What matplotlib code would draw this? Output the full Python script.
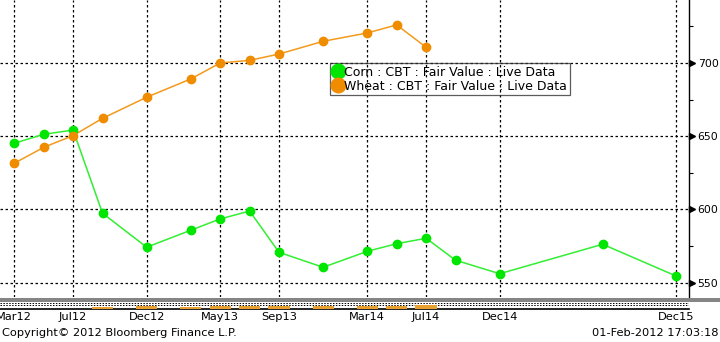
import matplotlib
matplotlib.use("Agg")
import matplotlib.pyplot as plt
from matplotlib.lines import Line2D
from matplotlib.patches import Rectangle

MONTHS = {"Jan": 1, "Feb": 2, "Mar": 3, "Apr": 4, "May": 5, "Jun": 6,
          "Jul": 7, "Aug": 8, "Sep": 9, "Oct": 10, "Nov": 11, "Dec": 12}

def mi(lbl):
    return (int(lbl[3:]) - 12) * 12 + MONTHS[lbl[:3]] - 1

corn_contracts = ["Mar12", "May12", "Jul12", "Sep12", "Dec12", "Mar13", "May13", "Jul13",
                  "Sep13", "Dec13", "Mar14", "May14", "Jul14", "Sep14", "Dec14", "Jul15", "Dec15"]
corn_values = [645.2, 651.3, 654.2, 597.4, 574.2, 585.8, 593.5, 598.9,
               570.7, 560.5, 571.4, 576.6, 580.3, 565.3, 556.1, 576.2, 554.5]

wheat_contracts = ["Mar12", "May12", "Jul12", "Sep12", "Dec12", "Mar13", "May13", "Jul13",
                   "Sep13", "Dec13", "Mar14", "May14", "Jul14"]
wheat_values = [631.5, 642.4, 650.4, 662.2, 676.6, 689.1, 700.0, 701.8,
                706.1, 714.8, 720.5, 726.0, 710.7]
wheat_strip = [0, 0, 0, 1.2, 2.4, 2.0, 2.4, 2.4, 3.0, 3.0, 3.0, 3.0, 3.2]

xtick_labels = ["Mar12", "Jul12", "Dec12", "May13", "Sep13", "Mar14", "Jul14", "Dec14", "Dec15"]
ytick_values = [550, 600, 650, 700]
ytick_minor = [575, 625, 675, 725]

legend_labels = ["Corn : CBT : Fair Value : Live Data", "Wheat : CBT : Fair Value : Live Data"]
copyright_text = "Copyright\u00a9 2012 Bloomberg Finance L.P."
timestamp_text = "01-Feb-2012 17:03:18"

CORN_LINE = "#33ee33"
CORN_MK = "#00e600"
WHEAT_LINE = "#f39a1c"
WHEAT_MK = "#f08c00"
FONT = "DejaVu Sans"
FS = 8.2

W, H = 720, 342
fig = plt.figure(figsize=(W / 100, H / 100), dpi=100)

def fx(px):
    return px / W

def fy(py):
    return 1 - py / H

XMIN, XMAX = 1.03, 47.87
ax = fig.add_axes([0, fy(297), fx(689), 297 / H])
ax.set_xlim(XMIN, XMAX)
ax.set_ylim(540.2, 743.0)

cx = [mi(c) for c in corn_contracts]
wx = [mi(c) for c in wheat_contracts]
ax.plot(cx, corn_values, color=CORN_LINE, lw=1.1, zorder=3)
ax.plot(cx, corn_values, ls="none", marker="o", ms=6.0, mfc=CORN_MK, mec=CORN_MK, zorder=4)
ax.plot(wx, wheat_values, color=WHEAT_LINE, lw=1.1, zorder=3)
ax.plot(wx, wheat_values, ls="none", marker="o", ms=6.0, mfc=WHEAT_MK, mec=WHEAT_MK, zorder=4)

xt = [mi(t) for t in xtick_labels]
for x in xt:
    ax.axvline(x, color="black", lw=0.9, ls=(0, (2, 2)), zorder=1)
for y in ytick_values:
    ax.axhline(y, color="black", lw=0.9, ls=(0, (2, 2)), zorder=1)

for s in ["left", "top", "bottom"]:
    ax.spines[s].set_visible(False)
ax.spines["right"].set_color("black")
ax.spines["right"].set_linewidth(1.0)
ax.set_xticks([])
ax.yaxis.tick_right()
ax.set_yticks(ytick_values)
ax.set_yticklabels([str(v) for v in ytick_values], fontsize=FS - 0.4, family=FONT)
ax.set_yticks(ytick_minor, minor=True)
ax.tick_params(axis="y", which="major", length=0, pad=6.2)
ax.tick_params(axis="y", which="minor", length=3, width=0.8, direction="out", color="black")
for v in ytick_values:
    ax.plot([XMAX + 0.18], [v], marker=">", ms=4.8, color="black", clip_on=False, zorder=5)

handles = [Line2D([], [], ls="none", marker="o", ms=10.5, mfc=CORN_MK, mec=CORN_MK),
           Line2D([], [], ls="none", marker="o", ms=10.5, mfc=WHEAT_MK, mec=WHEAT_MK)]
leg = ax.legend(handles, legend_labels, loc="upper left",
                bbox_to_anchor=(330 / 689, 1 - 63 / 297), frameon=True, fancybox=False,
                prop={"family": FONT, "size": 9.0}, handlelength=0.85,
                handletextpad=0.1, borderpad=0.2, labelspacing=0.08, borderaxespad=0)
leg.get_frame().set_facecolor("none")
leg.get_frame().set_edgecolor("#333333")
leg.get_frame().set_linewidth(0.9)

# grey separator band
fig.patches.append(Rectangle((0, fy(302)), fx(720), 4.5 / H, transform=fig.transFigure,
                             facecolor="#858585", edgecolor="none", zorder=0))

# bottom strip
sax = fig.add_axes([0, fy(308.5), fx(689), 6.5 / H])
sax.set_xlim(XMIN, XMAX)
sax.set_ylim(0, 6.5)
sax.axhline(3.2, color="black", lw=0.7, ls=(0, (1.5, 1.5)), zorder=1)
sax.axhline(5.2, color="black", lw=0.7, ls=(0, (1.5, 1.5)), zorder=1)
sax.bar(wx, wheat_strip, width=1.45, color="#e8a030", bottom=0, zorder=3)
for s in ["left", "top", "right"]:
    sax.spines[s].set_visible(False)
sax.spines["bottom"].set_color("black")
sax.spines["bottom"].set_linewidth(1.2)
sax.set_yticks([])
sax.set_xticks(xt)
sax.set_xticklabels(xtick_labels, fontsize=FS, family=FONT)
sax.tick_params(axis="x", length=0, pad=2.5)

fig.text(fx(2), fy(333), copyright_text, fontsize=FS, family=FONT, va="center", ha="left")
fig.text(fx(718), fy(333), timestamp_text, fontsize=FS, family=FONT, va="center", ha="right")

fig.savefig("out.png", dpi=100)
